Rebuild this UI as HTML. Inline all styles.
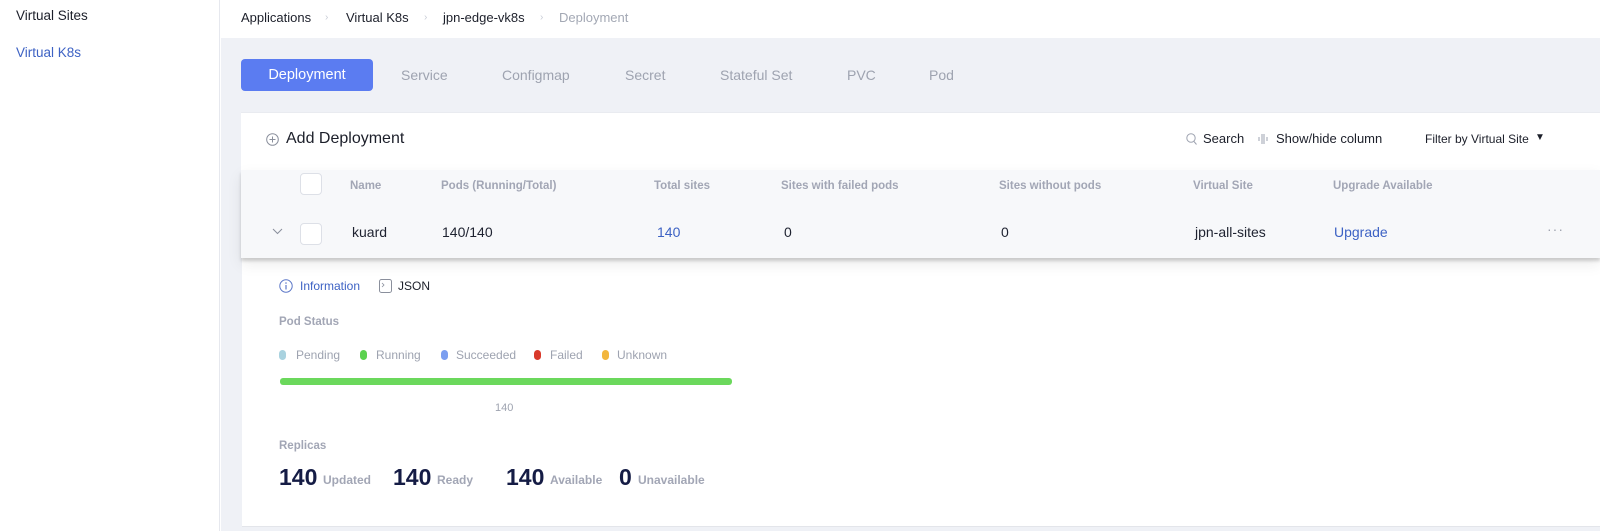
<!DOCTYPE html>
<html><head><meta charset="utf-8">
<style>
*{margin:0;padding:0;box-sizing:border-box}
html,body{width:1600px;height:531px;overflow:hidden;background:#fff;font-family:"Liberation Sans",sans-serif;}
.a{position:absolute;white-space:nowrap;line-height:1}
#side{position:absolute;left:0;top:0;width:220px;height:531px;background:#fff;border-right:1px solid #e6e8ee}
#main{position:absolute;left:221px;top:0;width:1379px;height:531px;background:#eff1f6}
#hdr{position:absolute;left:221px;top:0;width:1379px;height:38px;background:#fff}
.bc{font-size:13px;color:#1c1f2a;top:11px}
.sep{font-size:10px;color:#c8ccd6;top:13px}
.tab{font-size:14px;color:#9ea3b0;top:68px}
#pill{position:absolute;left:241px;top:59px;width:132px;height:32px;background:#5b7cf1;border-radius:4px;color:#fff;font-size:14.5px;text-align:center;line-height:32px}
#card{position:absolute;left:241px;top:112px;width:1359px;height:58px;background:#fff;border-top:1px solid #e9ebf0}
#exp{position:absolute;left:242px;top:258px;width:1358px;height:269px;background:#fff;border-bottom:1px solid #e3e5ea}
#tbl{position:absolute;left:241px;top:170px;width:1359px;height:88px;background:#f7f8fa;box-shadow:0 3px 3px rgba(0,0,0,0.16),0 6px 14px rgba(0,0,0,0.08)}
.th{font-size:11.5px;font-weight:bold;color:#a2a6b5;top:181px}
.td{font-size:14px;color:#1e2230;top:225px}
.lnk{color:#3d62c4}
.cb{position:absolute;width:22px;height:22px;background:#fff;border:1px solid #dde0e7;border-radius:4px}
.lg{font-size:12px;color:#9ea3b0;top:349px}
.dot{position:absolute;width:7px;height:10px;border-radius:3.5px;top:350px}
.big{font-size:23px;font-weight:bold;color:#151c45;top:466px}
.lab{font-size:12px;font-weight:bold;color:#a2a6b5;top:474px}
</style></head><body>
<div id="side"></div>
<div id="main"></div>
<div id="hdr"></div>

<div class="a" style="left:16px;top:9px;font-size:13.5px;color:#1c1f2a">Virtual Sites</div>
<div class="a" style="left:16px;top:46px;font-size:13.5px;color:#3d62c4">Virtual K8s</div>

<div class="a bc" style="left:241px">Applications</div>
<div class="a sep" style="left:325px">&#x203A;</div>
<div class="a bc" style="left:346px">Virtual K8s</div>
<div class="a sep" style="left:424px">&#x203A;</div>
<div class="a bc" style="left:443px">jpn-edge-vk8s</div>
<div class="a sep" style="left:540px">&#x203A;</div>
<div class="a bc" style="left:559px;color:#a3a8b4">Deployment</div>

<div id="pill">Deployment</div>
<div class="a tab" style="left:401px">Service</div>
<div class="a tab" style="left:502px">Configmap</div>
<div class="a tab" style="left:625px">Secret</div>
<div class="a tab" style="left:720px">Stateful Set</div>
<div class="a tab" style="left:847px">PVC</div>
<div class="a tab" style="left:929px">Pod</div>

<div id="card"></div>
<svg class="a" style="left:266px;top:133px" width="13" height="13" viewBox="0 0 13 13"><circle cx="6.5" cy="6.5" r="5.8" fill="none" stroke="#8a8f9c" stroke-width="1"/><path d="M6.5 3.5v6M3.5 6.5h6" stroke="#8a8f9c" stroke-width="1"/></svg>
<div class="a" style="left:286px;top:131px;font-size:16px;color:#1c1f2a">Add Deployment</div>

<svg class="a" style="left:1186px;top:133px" width="11" height="12" viewBox="0 0 11 12"><circle cx="5" cy="5" r="4.2" fill="none" stroke="#9ea3b0" stroke-width="1"/><path d="M8 8.5l2.5 3" stroke="#9ea3b0" stroke-width="1"/></svg>
<div class="a" style="left:1203px;top:132px;font-size:13px;color:#1c1f2a">Search</div>
<svg class="a" style="left:1258px;top:133px" width="10" height="12" viewBox="0 0 10 12"><path d="M1 4v4M4 1v10M6 1v10M9 4v4" stroke="#9ea3b0" stroke-width="1"/></svg>
<div class="a" style="left:1276px;top:132px;font-size:13px;color:#1c1f2a">Show/hide column</div>
<div class="a" style="left:1425px;top:133px;font-size:12px;color:#1c1f2a">Filter by Virtual Site</div>
<div class="a" style="left:1535px;top:133px;font-size:10px;color:#1c1f2a">&#9660;</div>

<div id="exp"></div>
<div id="tbl"></div>
<div class="cb" style="left:300px;top:173px"></div>
<div class="a th" style="left:350px">Name</div>
<div class="a th" style="left:441px">Pods (Running/Total)</div>
<div class="a th" style="left:654px">Total sites</div>
<div class="a th" style="left:781px">Sites with failed pods</div>
<div class="a th" style="left:999px">Sites without pods</div>
<div class="a th" style="left:1193px">Virtual Site</div>
<div class="a th" style="left:1333px">Upgrade Available</div>

<svg class="a" style="left:272px;top:228px" width="11" height="7" viewBox="0 0 11 7"><path d="M1 1l4.5 4.5L10 1" fill="none" stroke="#8a8f9c" stroke-width="1"/></svg>
<div class="cb" style="left:300px;top:223px"></div>
<div class="a td" style="left:352px">kuard</div>
<div class="a td" style="left:442px">140/140</div>
<div class="a td lnk" style="left:657px">140</div>
<div class="a td" style="left:784px">0</div>
<div class="a td" style="left:1001px">0</div>
<div class="a td" style="left:1195px">jpn-all-sites</div>
<div class="a td lnk" style="left:1334px">Upgrade</div>
<div class="a" style="left:1547px;top:222px;font-size:14px;color:#a0a4b0;letter-spacing:1px">&middot;&middot;&middot;</div>

<svg class="a" style="left:279px;top:279px" width="14" height="14" viewBox="0 0 14 14"><circle cx="7" cy="7" r="6.2" fill="none" stroke="#5d78c8" stroke-width="1"/><path d="M7 6v4.5" stroke="#5d78c8" stroke-width="1.2"/><circle cx="7" cy="4" r="0.8" fill="#5d78c8"/></svg>
<div class="a" style="left:300px;top:280px;font-size:12px;color:#3d62c4">Information</div>
<svg class="a" style="left:379px;top:279px" width="13" height="14" viewBox="0 0 13 14"><rect x="0.5" y="0.5" width="12" height="13" rx="2" fill="none" stroke="#8a8f9c" stroke-width="1"/><path d="M3 4l2 2-2 2" fill="none" stroke="#8a8f9c" stroke-width="0.8"/></svg>
<div class="a" style="left:398px;top:280px;font-size:12px;color:#1c1f2a">JSON</div>

<div class="a" style="left:279px;top:317px;font-size:11.5px;font-weight:bold;color:#a2a6b5">Pod Status</div>

<div class="dot" style="left:279px;background:#a9d2df"></div>
<div class="a lg" style="left:296px">Pending</div>
<div class="dot" style="left:360px;background:#5bd24f"></div>
<div class="a lg" style="left:376px">Running</div>
<div class="dot" style="left:441px;background:#7b9ef0"></div>
<div class="a lg" style="left:456px">Succeeded</div>
<div class="dot" style="left:534px;background:#d9392a"></div>
<div class="a lg" style="left:550px">Failed</div>
<div class="dot" style="left:602px;background:#f2b63e"></div>
<div class="a lg" style="left:617px">Unknown</div>

<div class="a" style="left:280px;top:378px;width:452px;height:7px;background:#6bd85c;border-radius:3px"></div>
<div class="a" style="left:495px;top:403px;font-size:11px;color:#9ea3b0">140</div>

<div class="a" style="left:279px;top:441px;font-size:11.5px;font-weight:bold;color:#a2a6b5">Replicas</div>

<div class="a big" style="left:279px">140</div>
<div class="a lab" style="left:323px">Updated</div>
<div class="a big" style="left:393px">140</div>
<div class="a lab" style="left:437px">Ready</div>
<div class="a big" style="left:506px">140</div>
<div class="a lab" style="left:550px">Available</div>
<div class="a big" style="left:619px">0</div>
<div class="a lab" style="left:638px">Unavailable</div>
</body></html>
